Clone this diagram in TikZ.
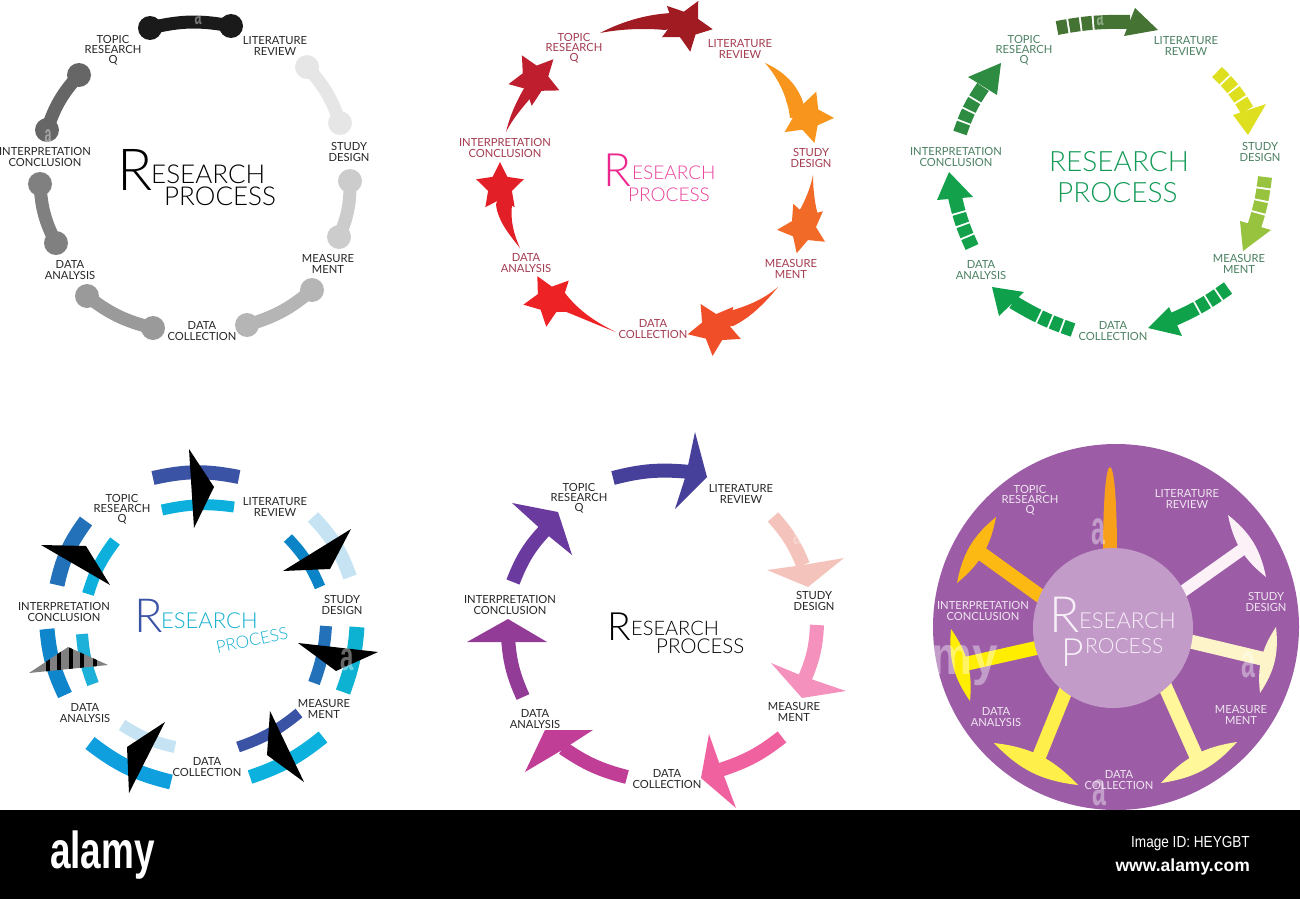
\documentclass[tikz,border=0pt]{standalone}
\usepackage{fontspec}
\setmainfont{Lato}
\newfontfamily\markfont{Liberation Sans}
\newfontfamily\thinfont{Lato Light}
\usetikzlibrary{calc, shapes.geometric}

\tikzset{
	steplabel/.style={inner sep=0pt, align=center, font=\fontsize{11.2}{10.2}\selectfont},
	titlepart/.style={inner sep=0pt, anchor=base west},
	starmark/.style={star, star points=5, star point ratio=2, inner sep=0pt, outer sep=0pt},
	wmark/.style={inner sep=0pt, white, opacity=0.4, font=\markfont\bfseries\fontsize{48}{48}\selectfont},
	footertext/.style={inner sep=0pt, white, font=\markfont},
	blocks/.style={dash pattern=on 10.5pt off 2pt on 10.5pt off 2pt on 10.5pt off 2pt on 300pt}
}

\newcommand{\steptext}[1]{\ifcase#1\or TOPIC\\RESEARCH\\Q\or LITERATURE\\REVIEW\or STUDY\\DESIGN\or MEASURE\\MENT\or DATA\\COLLECTION\or DATA\\ANALYSIS\or INTERPRETATION\\CONCLUSION\fi}
\newcommand{\steplabels}[3]{\foreach \x/\y [count=\i] in {#3} {\node [steplabel, #2] (#1\i) at (\x,\y) {\steptext{\i}};}}
\newcommand{\titlebit}[6]{\node [titlepart, text=#5, font=\thinfont\fontsize{#4}{#4}\selectfont] (#6) at (#2,#3) {#1};}
\newcommand{\dumbbell}[3]{\definecolor{cur}{HTML}{#1}
	\draw [cur, line width=13pt] (#2) to[bend left=12] (#3);
	\fill [cur] (#2) circle (12pt) (#3) circle (12pt);}
\newcommand{\shootstar}[6]{\definecolor{cur}{HTML}{#1}
	\fill [cur] #5 -- cycle;
	\node [starmark, fill=cur, rotate=#3, minimum size=#4pt] (#6) at (#2) {};}
\newcommand{\arcarrow}[6]{\definecolor{cur}{HTML}{#1}
	\draw [cur, line width=14pt, #6] (#2) to[bend left=#3] (#4);
	\fill [cur] #5 -- cycle;}
\newcommand{\ringarc}[5]{\definecolor{cur}{HTML}{#1}
	\draw [cur, line width=#2pt] (#3) to[bend left=#4] (#5);}
\newcommand{\tspoke}[6]{\definecolor{cur}{HTML}{#1}
	\fill [cur] (#5) to[bend left=20] (#6) to[bend left=20] (#5) -- cycle;
	\draw [cur, line width=#4pt] (#2) -- ($ (#5)!0.5!(#6) $);}

\begin{document}
\begin{tikzpicture}[x=1pt, y=-1pt]
	\useasboundingbox (0,0) rectangle (1300,899);

	\begin{scope}
		\dumbbell{1A1A1A}{150,28}{231,26}
		\dumbbell{E6E6E6}{307,67}{340,123}
		\dumbbell{CCCCCC}{350,181}{339,237}
		\dumbbell{B5B5B5}{312,290}{247,325}
		\dumbbell{9A9A9A}{153,328}{87,296}
		\dumbbell{808080}{56,243}{40,184}
		\dumbbell{666666}{47,130}{79,75}
		\node [wmark] (mark1a) at (198,18) {\scalebox{.26}[.5]{a}};
		\node [wmark] (mark1b) at (48,136) {\scalebox{.26}[.5]{a}};
		\steplabels{a}{text=black!85}{113/50, 275/46, 349/152, 328/264, 202/331, 70/270, 45/157}
		\titlebit{R}{117}{190}{58}{black}{aR}
		\titlebit{ESEARCH}{151}{183}{26}{black}{aE}
		\titlebit{PROCESS}{164}{205}{26}{black}{aP}
	\end{scope}

	\begin{scope}
		\definecolor{roseL}{HTML}{A33B4F}
		\shootstar{A01C22}{686,25}{-27}{54}{(600,33) .. controls (625,20) and (650,14) .. (672,13) -- (686,25) -- (665,30) .. controls (645,28) and (620,29) .. (600,33)}{star1}
		\shootstar{F7951D}{807,117}{-20}{54}{(765,63) .. controls (785,72) and (797,85) .. (803,102) -- (807,117) -- (790,118) .. controls (788,100) and (780,80) .. (765,63)}{star2}
		\shootstar{F26A27}{803,228}{22}{52}{(813,175) .. controls (810,190) and (804,203) .. (797,215) -- (803,228) -- (818,215) .. controls (815,205) and (813,190) .. (813,175)}{star3}
		\shootstar{F04E29}{715,328}{31}{56}{(778,287) .. controls (763,300) and (745,307) .. (726,312) -- (715,328) -- (733,326) .. controls (750,318) and (765,303) .. (778,287)}{star4}
		\shootstar{ED2224}{550,300}{28}{54}{(616,332) .. controls (595,322) and (578,310) .. (565,293) -- (550,300) -- (556,308) .. controls (575,315) and (597,325) .. (616,332)}{star5}
		\shootstar{E21F26}{500,187}{0}{50}{(520,248) .. controls (507,232) and (498,220) .. (496,205) -- (500,187) -- (512,205) .. controls (510,220) and (514,235) .. (520,248)}{star6}
		\shootstar{BE1E2D}{535,79}{29}{54}{(506,132) .. controls (510,115) and (517,100) .. (526,85) -- (535,79) -- (533,95) .. controls (523,107) and (513,118) .. (506,132)}{star7}
		\steplabels{b}{text=roseL}{574/48, 740/49, 811/158, 791/269, 653/329, 526/263, 505/148}
		\definecolor{pinkR}{HTML}{EC268F}
		\definecolor{pinkS}{HTML}{E9409A}
		\titlebit{R}{603}{186}{46}{pinkR}{bR}
		\titlebit{ESEARCH}{632}{179}{19}{pinkS}{bE}
		\titlebit{PROCESS}{628}{201}{19}{pinkS}{bP}
	\end{scope}

	\begin{scope}
		\definecolor{mossL}{HTML}{4A8060}
		\arcarrow{447334}{1057,28}{6}{1130,22}{(1135,8) -- (1158,30) -- (1124,36)}{blocks}
		\arcarrow{DDDF1F}{1217,72}{8}{1247,110}{(1266,104) -- (1248,135) -- (1233,115)}{blocks}
		\arcarrow{98C33F}{1265,177}{6}{1253,230}{(1271,230) -- (1243,251) -- (1240,221)}{blocks}
		\arcarrow{10A24B}{1228,288}{6}{1172,320}{(1169,307) -- (1148,328) -- (1182,336)}{blocks}
		\arcarrow{0FA04B}{1073,330}{6}{1013,302}{(992,287) -- (1024,292) -- (999,316)}{blocks}
		\arcarrow{13A14B}{972,247}{6}{955,197}{(949,172) -- (973,197) -- (937,200)}{blocks}
		\arcarrow{2E8B42}{960,133}{8}{983,87}{(1001,63) -- (997,95) -- (968,77)}{blocks}
		\node [wmark] (mark3) at (1100,19) {\scalebox{.26}[.5]{a}};
		\steplabels{c}{text=mossL}{1024/50, 1186/46, 1260/152, 1239/264, 1113/331, 981/270, 956/157}
		\definecolor{greenT}{HTML}{129A56}
		\titlebit{RESEARCH}{1049}{171}{28}{greenT}{cR}
		\titlebit{PROCESS}{1057}{202}{28}{greenT}{cP}
	\end{scope}

	\begin{scope}
		\ringarc{3B53A4}{14}{153,478}{12}{239,477}
		\ringarc{0DB0DD}{11}{162,510}{10}{234,507}
		\ringarc{C5E3F2}{14}{313,517}{12}{350,577}
		\ringarc{0A84C6}{11}{288,538}{10}{320,587}
		\ringarc{0DB1D2}{15}{357,627}{8}{343,692}
		\ringarc{2372B9}{12}{326,626}{8}{314,683}
		\ringarc{0DB1DE}{14}{323,737}{10}{250,777}
		\ringarc{3B53A4}{11}{299,713}{10}{238,747}
		\ringarc{0F9FDE}{15}{171,782}{12}{90,743}
		\ringarc{C5E3F2}{12}{175,747}{10}{122,725}
		\ringarc{0F86CC}{15}{65,695}{10}{47,629}
		\ringarc{1DB0D8}{12}{93,684}{8}{82,634}
		\ringarc{2372B9}{15}{57,585}{12}{86,521}
		\ringarc{0DB0DD}{12}{88,594}{10}{115,541}
		\fill (189,449) -- (214,487) -- (194,528) -- cycle;
		\fill (351,529) -- (330,569) -- (283,571) -- cycle;
		\fill (298,643) -- (378,652) -- (336,671) -- cycle;
		\fill (270,711) -- (304,782) -- (267,755) -- cycle;
		\fill (165,722) -- (129,793) -- (127,747) -- cycle;
		\fill (41,545) -- (86,546) -- (110,585) -- cycle;
		\begin{scope}
			\clip (29,673) -- (68,647) -- (108,665) -- cycle;
			\fill [gray] (29,640) rectangle (108,680);
			\foreach \x in {48,59,71,82,95} {\fill (\x-1.7,640) rectangle (\x+1.7,680);}
		\end{scope}
		\node [wmark] (mark4) at (347,660) {\scalebox{.5}[.85]{a}};
		\steplabels{d}{text=black!85}{122/509, 275/507, 342/605, 324/709, 207/767, 85/713, 64/612}
		\definecolor{blueR}{HTML}{3B53A4}
		\definecolor{blueS}{HTML}{14AFD0}
		\titlebit{R}{134}{632}{47}{blueR}{dR}
		\titlebit{ESEARCH}{161}{628}{22}{blueS}{dE}
		\node [inner sep=0pt, text=blueS, rotate=12, font=\thinfont\fontsize{17}{17}\selectfont] (dP) at (252,640) {PROCESS};
	\end{scope}

	\begin{scope}
		\arcarrow{47409A}{613,478}{10}{690,472}{(695,432) -- (707,477) -- (675,509) -- (686,475)}{}
		\arcarrow{F4C4BC}{773,517}{10}{803,565}{(844,558) -- (808,587) -- (767,570) -- (803,565)}{}
		\arcarrow{F491BD}{817,625}{10}{805,678}{(846,691) -- (802,698) -- (771,663) -- (805,677)}{}
		\arcarrow{F0629F}{782,737}{10}{720,770}{(709,734) -- (701,778) -- (736,808) -- (721,768)}{}
		\arcarrow{C13E96}{627,777}{10}{563,748}{(593,730) -- (545,730) -- (525,772) -- (562,750)}{}
		\arcarrow{923C97}{523,697}{10}{508,638}{(508,619) -- (547,642) -- (467,642)}{}
		\arcarrow{6B3A9E}{513,582}{12}{550,525}{(512,503) -- (558,512) -- (572,555) -- (545,533)}{}
		\node [wmark, opacity=0.3] (mark5) at (797,538) {\scalebox{.3}[.5]{a}};
		\steplabels{e}{text=black!85}{579/498, 741/494, 814/601, 794/712, 667/779, 535/719, 510/605}
		\titlebit{R}{607}{640}{39}{black}{eR}
		\titlebit{ESEARCH}{631}{635}{20}{black}{eE}
		\titlebit{PROCESS}{656}{653}{20.5}{black}{eP}
	\end{scope}

	\begin{scope}
		\definecolor{discout}{HTML}{9C5CA6}
		\definecolor{discin}{HTML}{C39BC9}
		\fill [discout] (1116,627) circle (183pt);
		\definecolor{cur}{HTML}{F9A01B}
		\fill [cur] (1103,555) .. controls (1103,500) and (1106,467) .. (1110,467) .. controls (1114,467) and (1117,500) .. (1117,555) -- cycle;
		\tspoke{FBF1F7}{1175,597}{1240,550}{12}{1228,515}{1266,577}
		\tspoke{FDF5C9}{1180,639}{1258,658}{14}{1276,627}{1260,693}
		\tspoke{FFF799}{1160,675}{1198,753}{14}{1237,742}{1161,783}
		\tspoke{FFEF4A}{1070,680}{1042,758}{14}{994,743}{1078,785}
		\tspoke{FFEE00}{1045,646}{967,660}{14}{951,629}{970,701}
		\tspoke{FDB913}{1050,603}{985,553}{14}{996,517}{957,583}
		\fill [discin] (1113,628) circle (80pt);
		\node [wmark] (mark6a) at (1098,532) {\scalebox{.52}[1]{a}};
		\node [wmark] (mark6b) at (1248,665) {\scalebox{.52}[1]{a}};
		\node [wmark] (mark6c) at (1099,793) {\scalebox{.52}[1]{a}};
		\node [wmark, font=\markfont\bfseries\fontsize{54}{54}\selectfont] (mark6d) at (965,666) {\scalebox{.85}[1]{my}};
		\steplabels{f}{text=discin!25!white}{1030/500, 1187/499, 1266/602, 1241/715, 1119/780, 996/717, 983/611}
		\definecolor{paleT}{HTML}{F7EFF8}
		\titlebit{R}{1049}{632}{50}{paleT}{fR}
		\titlebit{ESEARCH}{1079}{628}{22}{paleT}{fE}
		\titlebit{P}{1061}{666}{39}{paleT}{fP}
		\titlebit{ROCESS}{1085}{653}{21}{paleT}{fS}
	\end{scope}

	\begin{scope}
		\fill [black] (0,810) rectangle (1300,899);
		\node [footertext, anchor=base west, font=\markfont\bfseries\fontsize{52}{52}\selectfont] (logo) at (50,868) {\scalebox{.71}[1]{alamy}};
		\node [footertext, anchor=base east, font=\markfont\fontsize{16}{16}\selectfont] (imageid) at (1250,847) {\scalebox{.85}[1]{Image ID: HEYGBT}};
		\node [footertext, anchor=base east, font=\markfont\bfseries\fontsize{17.5}{17.5}\selectfont] (site) at (1250,871) {www.alamy.com};
	\end{scope}
\end{tikzpicture}
\end{document}
